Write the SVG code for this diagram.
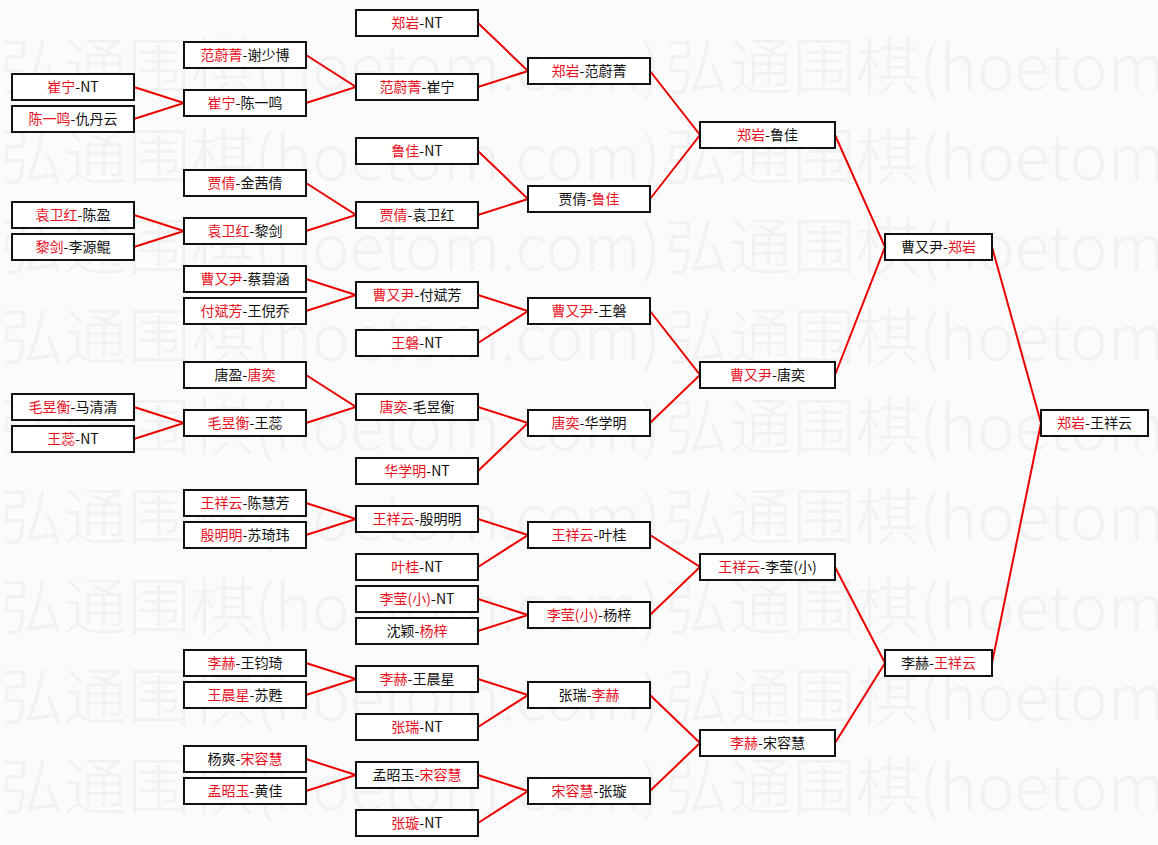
<svg xmlns="http://www.w3.org/2000/svg" xmlns:xlink="http://www.w3.org/1999/xlink" width="1158" height="845" viewBox="0 0 1158 845">
<style>
.bg{fill:#fbfbfb}
.wm{font-family:"Noto Sans CJK SC",sans-serif;font-size:62px;font-weight:300;fill:#f1f1f1}
.box{fill:#ffffff;stroke:#111111;stroke-width:2}
.t{font-family:"Noto Sans CJK SC","Liberation Sans",sans-serif;font-size:14px;fill:#111111;text-anchor:middle}
.r{fill:#e8101e}
.ln{fill:none;stroke:#ee0000;stroke-width:2}
</style>
<defs>
<text id="wm" class="wm" x="0" y="0" textLength="661" lengthAdjust="spacingAndGlyphs">弘通围棋(hoetom.com)</text>
</defs>
<rect class="bg" x="0" y="0" width="1158" height="845"/>
<g id="watermark">
<use xlink:href="#wm" x="0" y="90"/><use xlink:href="#wm" x="665" y="90"/>
<use xlink:href="#wm" x="0" y="180"/><use xlink:href="#wm" x="665" y="180"/>
<use xlink:href="#wm" x="0" y="270"/><use xlink:href="#wm" x="665" y="270"/>
<use xlink:href="#wm" x="0" y="360"/><use xlink:href="#wm" x="665" y="360"/>
<use xlink:href="#wm" x="0" y="450"/><use xlink:href="#wm" x="665" y="450"/>
<use xlink:href="#wm" x="0" y="540"/><use xlink:href="#wm" x="665" y="540"/>
<use xlink:href="#wm" x="0" y="630"/><use xlink:href="#wm" x="665" y="630"/>
<use xlink:href="#wm" x="0" y="720"/><use xlink:href="#wm" x="665" y="720"/>
<use xlink:href="#wm" x="0" y="810"/><use xlink:href="#wm" x="665" y="810"/>
</g>
<g id="connectors">
<path class="ln" d="M134 87L184 103L134 119"/>
<path class="ln" d="M134 215L184 231L134 247"/>
<path class="ln" d="M134 407L184 423L134 439"/>
<path class="ln" d="M306 55L356 87L306 103"/>
<path class="ln" d="M306 183L356 215L306 231"/>
<path class="ln" d="M306 279L356 295L306 311"/>
<path class="ln" d="M306 375L356 407L306 423"/>
<path class="ln" d="M306 503L356 519L306 535"/>
<path class="ln" d="M306 663L356 679L306 695"/>
<path class="ln" d="M306 759L356 775L306 791"/>
<path class="ln" d="M478 23L528 71L478 87"/>
<path class="ln" d="M478 151L528 199L478 215"/>
<path class="ln" d="M478 295L528 311L478 343"/>
<path class="ln" d="M478 407L528 423L478 471"/>
<path class="ln" d="M478 519L528 535L478 567"/>
<path class="ln" d="M478 599L528 615L478 631"/>
<path class="ln" d="M478 679L528 695L478 727"/>
<path class="ln" d="M478 775L528 791L478 823"/>
<path class="ln" d="M650 71L700 135L650 199"/>
<path class="ln" d="M650 311L700 375L650 423"/>
<path class="ln" d="M650 535L700 567L650 615"/>
<path class="ln" d="M650 695L700 743L650 791"/>
<path class="ln" d="M835 135L885 247L835 375"/>
<path class="ln" d="M835 567L885 663L835 743"/>
<path class="ln" d="M992 247L1041 423L992 663"/>
</g>
<g id="n1a"><rect class="box" x="12" y="74" width="122" height="26"/><text class="t" x="73" y="92"><tspan class="r">崔宁</tspan>-NT</text></g>
<g id="n1b"><rect class="box" x="12" y="106" width="122" height="26"/><text class="t" x="73" y="124"><tspan class="r">陈一鸣</tspan>-仇丹云</text></g>
<g id="n1c"><rect class="box" x="12" y="202" width="122" height="26"/><text class="t" x="73" y="220"><tspan class="r">袁卫红</tspan>-陈盈</text></g>
<g id="n1d"><rect class="box" x="12" y="234" width="122" height="26"/><text class="t" x="73" y="252"><tspan class="r">黎剑</tspan>-李源鲲</text></g>
<g id="n1e"><rect class="box" x="12" y="394" width="122" height="26"/><text class="t" x="73" y="412"><tspan class="r">毛昱衡</tspan>-马清清</text></g>
<g id="n1f"><rect class="box" x="12" y="426" width="122" height="26"/><text class="t" x="73" y="444"><tspan class="r">王蕊</tspan>-NT</text></g>

<g id="n2a"><rect class="box" x="184" y="42" width="122" height="26"/><text class="t" x="245" y="60"><tspan class="r">范蔚菁</tspan>-谢少博</text></g>
<g id="n2b"><rect class="box" x="184" y="90" width="122" height="26"/><text class="t" x="245" y="108"><tspan class="r">崔宁</tspan>-陈一鸣</text></g>
<g id="n2c"><rect class="box" x="184" y="170" width="122" height="26"/><text class="t" x="245" y="188"><tspan class="r">贾倩</tspan>-金茜倩</text></g>
<g id="n2d"><rect class="box" x="184" y="218" width="122" height="26"/><text class="t" x="245" y="236"><tspan class="r">袁卫红</tspan>-黎剑</text></g>
<g id="n2e"><rect class="box" x="184" y="266" width="122" height="26"/><text class="t" x="245" y="284"><tspan class="r">曹又尹</tspan>-蔡碧涵</text></g>
<g id="n2f"><rect class="box" x="184" y="298" width="122" height="26"/><text class="t" x="245" y="316"><tspan class="r">付斌芳</tspan>-王倪乔</text></g>
<g id="n2g"><rect class="box" x="184" y="362" width="122" height="26"/><text class="t" x="245" y="380">唐盈-<tspan class="r">唐奕</tspan></text></g>
<g id="n2h"><rect class="box" x="184" y="410" width="122" height="26"/><text class="t" x="245" y="428"><tspan class="r">毛昱衡</tspan>-王蕊</text></g>
<g id="n2i"><rect class="box" x="184" y="490" width="122" height="26"/><text class="t" x="245" y="508"><tspan class="r">王祥云</tspan>-陈慧芳</text></g>
<g id="n2j"><rect class="box" x="184" y="522" width="122" height="26"/><text class="t" x="245" y="540"><tspan class="r">殷明明</tspan>-苏琦玮</text></g>
<g id="n2k"><rect class="box" x="184" y="650" width="122" height="26"/><text class="t" x="245" y="668"><tspan class="r">李赫</tspan>-王钧琦</text></g>
<g id="n2l"><rect class="box" x="184" y="682" width="122" height="26"/><text class="t" x="245" y="700"><tspan class="r">王晨星</tspan>-苏甦</text></g>
<g id="n2m"><rect class="box" x="184" y="746" width="122" height="26"/><text class="t" x="245" y="764">杨爽-<tspan class="r">宋容慧</tspan></text></g>
<g id="n2n"><rect class="box" x="184" y="778" width="122" height="26"/><text class="t" x="245" y="796"><tspan class="r">孟昭玉</tspan>-黄佳</text></g>

<g id="n3a"><rect class="box" x="356" y="10" width="122" height="26"/><text class="t" x="417" y="28"><tspan class="r">郑岩</tspan>-NT</text></g>
<g id="n3b"><rect class="box" x="356" y="74" width="122" height="26"/><text class="t" x="417" y="92"><tspan class="r">范蔚菁</tspan>-崔宁</text></g>
<g id="n3c"><rect class="box" x="356" y="138" width="122" height="26"/><text class="t" x="417" y="156"><tspan class="r">鲁佳</tspan>-NT</text></g>
<g id="n3d"><rect class="box" x="356" y="202" width="122" height="26"/><text class="t" x="417" y="220"><tspan class="r">贾倩</tspan>-袁卫红</text></g>
<g id="n3e"><rect class="box" x="356" y="282" width="122" height="26"/><text class="t" x="417" y="300"><tspan class="r">曹又尹</tspan>-付斌芳</text></g>
<g id="n3f"><rect class="box" x="356" y="330" width="122" height="26"/><text class="t" x="417" y="348"><tspan class="r">王磐</tspan>-NT</text></g>
<g id="n3g"><rect class="box" x="356" y="394" width="122" height="26"/><text class="t" x="417" y="412"><tspan class="r">唐奕</tspan>-毛昱衡</text></g>
<g id="n3h"><rect class="box" x="356" y="458" width="122" height="26"/><text class="t" x="417" y="476"><tspan class="r">华学明</tspan>-NT</text></g>
<g id="n3i"><rect class="box" x="356" y="506" width="122" height="26"/><text class="t" x="417" y="524"><tspan class="r">王祥云</tspan>-殷明明</text></g>
<g id="n3j"><rect class="box" x="356" y="554" width="122" height="26"/><text class="t" x="417" y="572"><tspan class="r">叶桂</tspan>-NT</text></g>
<g id="n3k"><rect class="box" x="356" y="586" width="122" height="26"/><text class="t" x="417" y="604"><tspan class="r">李莹(小)</tspan>-NT</text></g>
<g id="n3l"><rect class="box" x="356" y="618" width="122" height="26"/><text class="t" x="417" y="636">沈颖-<tspan class="r">杨梓</tspan></text></g>
<g id="n3m"><rect class="box" x="356" y="666" width="122" height="26"/><text class="t" x="417" y="684"><tspan class="r">李赫</tspan>-王晨星</text></g>
<g id="n3n"><rect class="box" x="356" y="714" width="122" height="26"/><text class="t" x="417" y="732"><tspan class="r">张瑞</tspan>-NT</text></g>
<g id="n3o"><rect class="box" x="356" y="762" width="122" height="26"/><text class="t" x="417" y="780">孟昭玉-<tspan class="r">宋容慧</tspan></text></g>
<g id="n3p"><rect class="box" x="356" y="810" width="122" height="26"/><text class="t" x="417" y="828"><tspan class="r">张璇</tspan>-NT</text></g>

<g id="n4a"><rect class="box" x="528" y="58" width="122" height="26"/><text class="t" x="589" y="76"><tspan class="r">郑岩</tspan>-范蔚菁</text></g>
<g id="n4b"><rect class="box" x="528" y="186" width="122" height="26"/><text class="t" x="589" y="204">贾倩-<tspan class="r">鲁佳</tspan></text></g>
<g id="n4c"><rect class="box" x="528" y="298" width="122" height="26"/><text class="t" x="589" y="316"><tspan class="r">曹又尹</tspan>-王磐</text></g>
<g id="n4d"><rect class="box" x="528" y="410" width="122" height="26"/><text class="t" x="589" y="428"><tspan class="r">唐奕</tspan>-华学明</text></g>
<g id="n4e"><rect class="box" x="528" y="522" width="122" height="26"/><text class="t" x="589" y="540"><tspan class="r">王祥云</tspan>-叶桂</text></g>
<g id="n4f"><rect class="box" x="528" y="602" width="122" height="26"/><text class="t" x="589" y="620"><tspan class="r">李莹(小)</tspan>-杨梓</text></g>
<g id="n4g"><rect class="box" x="528" y="682" width="122" height="26"/><text class="t" x="589" y="700">张瑞-<tspan class="r">李赫</tspan></text></g>
<g id="n4h"><rect class="box" x="528" y="778" width="122" height="26"/><text class="t" x="589" y="796"><tspan class="r">宋容慧</tspan>-张璇</text></g>

<g id="n5a"><rect class="box" x="700" y="122" width="135" height="26"/><text class="t" x="767.5" y="140"><tspan class="r">郑岩</tspan>-鲁佳</text></g>
<g id="n5b"><rect class="box" x="700" y="362" width="135" height="26"/><text class="t" x="767.5" y="380"><tspan class="r">曹又尹</tspan>-唐奕</text></g>
<g id="n5c"><rect class="box" x="700" y="554" width="135" height="26"/><text class="t" x="767.5" y="572"><tspan class="r">王祥云</tspan>-李莹(小)</text></g>
<g id="n5d"><rect class="box" x="700" y="730" width="135" height="26"/><text class="t" x="767.5" y="748"><tspan class="r">李赫</tspan>-宋容慧</text></g>

<g id="n6a"><rect class="box" x="885" y="234" width="107" height="26"/><text class="t" x="938.5" y="252">曹又尹-<tspan class="r">郑岩</tspan></text></g>
<g id="n6b"><rect class="box" x="885" y="650" width="107" height="26"/><text class="t" x="938.5" y="668">李赫-<tspan class="r">王祥云</tspan></text></g>

<g id="n7a"><rect class="box" x="1041" y="410" width="107" height="26"/><text class="t" x="1094.5" y="428"><tspan class="r">郑岩</tspan>-王祥云</text></g>
</svg>
